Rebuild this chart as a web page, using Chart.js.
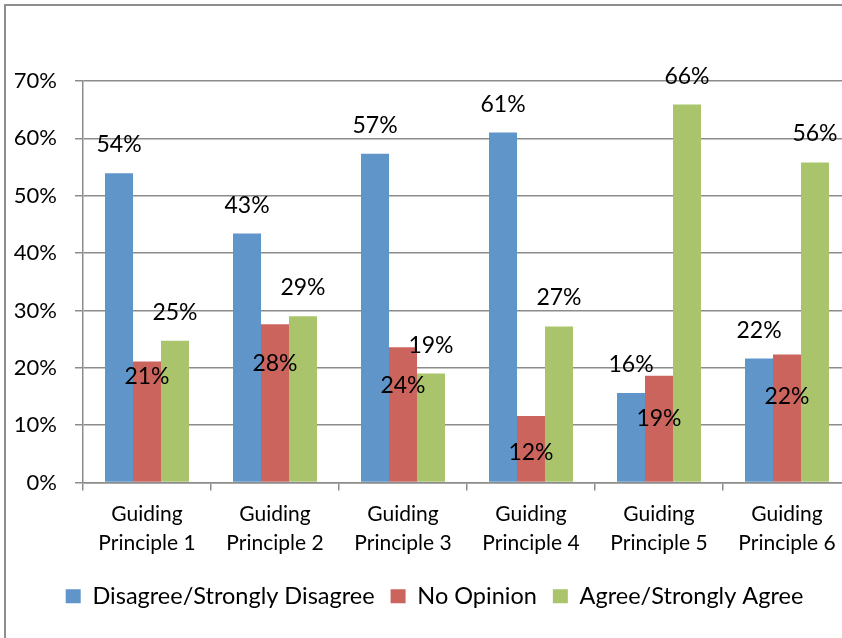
<!DOCTYPE html>
<html>
<head>
<meta charset="utf-8">
<title>Guiding Principles survey</title>
<script src="https://cdn.jsdelivr.net/npm/chart.js@4.4.1/dist/chart.umd.min.js"></script>
<style>
    html, body { margin: 0; padding: 0; background: #fff; overflow: hidden; }
    #frame { position: absolute; left: 4px; top: 4px; width: 900px; height: 700px; border: 2px solid #8e8e8e; }
    #wrap { position: absolute; left: 0; top: 0; width: 869px; height: 638px; }
</style>
</head>
<body>
<div id="frame"></div>
<div id="wrap"><canvas id="surveyChart"></canvas></div>
<script>
// Survey results per guiding principle (percent of responses)
const categories = [
    ['Guiding', 'Principle 1'],
    ['Guiding', 'Principle 2'],
    ['Guiding', 'Principle 3'],
    ['Guiding', 'Principle 4'],
    ['Guiding', 'Principle 5'],
    ['Guiding', 'Principle 6']
];
const disagree = [53.9, 43.4, 57.3, 61.0, 15.6, 21.6];
const noOpinion = [21.1, 27.6, 23.6, 11.6, 18.6, 22.3];
const agree = [24.7, 29.0, 19.0, 27.2, 65.9, 55.8];
const yTicks = [0, 10, 20, 30, 40, 50, 60, 70];

// how far the "No Opinion" labels sit below the top of their bar (px)
const redLabelDrop = [15, 39, 38, 36, 42, 41];

const FONT = 'Lato, "Open Sans", sans-serif';
const GRID = '#8c8c8c';

const valueLabels = {
    id: 'valueLabels',
    afterDatasetsDraw(chart) {
        const ctx = chart.ctx;
        ctx.save();
        ctx.font = '23px ' + FONT;
        ctx.fillStyle = '#000';
        ctx.textAlign = 'center';
        ctx.textBaseline = 'alphabetic';
        chart.data.datasets.forEach((ds, di) => {
            const meta = chart.getDatasetMeta(di);
            meta.data.forEach((bar, i) => {
                const txt = Math.round(ds.data[i]) + '%';
                if (di === 1) {
                    ctx.fillText(txt, bar.x, bar.y + redLabelDrop[i] + 8);
                } else {
                    ctx.fillText(txt, bar.x, bar.y - 21);
                }
            });
        });
        ctx.restore();
    }
};

new Chart(document.getElementById('surveyChart'), {
    type: 'bar',
    data: {
        labels: categories,
        datasets: [
            { label: 'Disagree/Strongly Disagree', data: disagree, backgroundColor: '#6095c9' },
            { label: 'No Opinion', data: noOpinion, backgroundColor: '#cc645e' },
            { label: 'Agree/Strongly Agree', data: agree, backgroundColor: '#aac46c' }
        ]
    },
    options: {
        responsive: true,
        maintainAspectRatio: false,
        animation: false,
        layout: { padding: { top: 81, right: 0, bottom: 20, left: 0 } },
        datasets: {
            bar: { categoryPercentage: 0.656, barPercentage: 1.0 }
        },
        plugins: {
            legend: {
                position: 'bottom',
                labels: {
                    boxWidth: 15,
                    boxHeight: 14,
                    padding: 16,
                    color: '#000',
                    font: { family: FONT, size: 23.5 }
                }
            },
            tooltip: { enabled: false }
        },
        scales: {
            x: {
                grid: {
                    display: true,
                    offset: true,
                    drawOnChartArea: false,
                    drawTicks: true,
                    tickLength: 8,
                    color: GRID,
                    lineWidth: 1.5
                },
                border: { color: GRID, width: 1.5 },
                ticks: {
                    color: '#000',
                    padding: 10,
                    maxRotation: 0,
                    font: { family: FONT, size: 21, lineHeight: 1.35 }
                },
                afterFit(scale) { scale.height = 86; }
            },
            y: {
                min: 0,
                max: 70,
                afterBuildTicks(scale) { scale.ticks = yTicks.map(v => ({ value: v })); },
                grid: { color: GRID, lineWidth: 1.5, tickLength: 8 },
                border: { color: GRID, width: 1.5 },
                ticks: {
                    color: '#000',
                    padding: 18,
                    font: { family: FONT, size: 22 },
                    callback: v => v + '%'
                },
                afterFit(scale) { scale.width = 83; }
            },
            // empty right-hand spacer so the plot runs off the picture edge like the original
            spacer: {
                position: 'right',
                min: 0,
                max: 70,
                grid: { drawOnChartArea: false, drawTicks: false },
                border: { display: false },
                ticks: { display: false },
                afterFit(scale) { scale.width = 18; }
            }
        }
    },
    plugins: [valueLabels]
});
</script>
</body>
</html>
